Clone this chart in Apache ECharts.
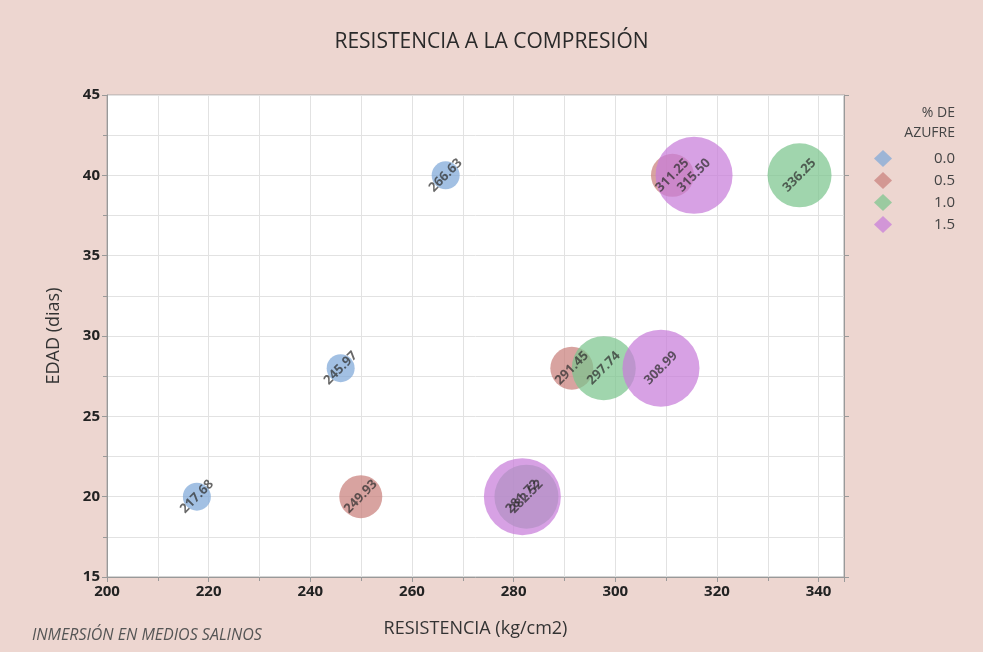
<!DOCTYPE html>
<html><head><meta charset="utf-8">
<script src="https://cdn.jsdelivr.net/npm/echarts@6/dist/echarts.min.js"></script>
<style>html,body{margin:0;padding:0;background:#fff}#c{width:983px;height:652px}</style>
</head><body><div id="c"></div>
<script>
const seriesNames = ['0.0', '0.5', '1.0', '1.5'];
const edad = [20, 28, 40];
const res00 = [217.68, 245.97, 266.63];
const res05 = [249.93, 291.45, 311.25];
const res10 = [282.52, 297.74, 336.25];
const res15 = [281.72, 308.99, 315.50];
const xTicks = [200, 220, 240, 260, 280, 300, 320, 340];
const yTicks = [15, 20, 25, 30, 35, 40, 45];

const allRes = [res00, res05, res10, res15];
const colors = ['#7ea8d8', '#c97f7c', '#7cc58d', '#c87dda'];
const sizes = [28, 43, 64, 77];
const font = '"Open Sans", "Noto Sans", sans-serif';

const chart = echarts.init(document.getElementById('c'));
const series = seriesNames.map((n, i) => ({
  name: n,
  type: 'scatter',
  symbolSize: sizes[i],
  itemStyle: { color: colors[i], opacity: 0.72 },
  label: {
    show: true, position: 'inside', rotate: 45,
    formatter: p => p.value[0].toFixed(2),
    color: '#2e2e2e', fontSize: 13, fontWeight: 'bold', fontFamily: font
  },
  emphasis: { disabled: true },
  data: allRes[i].map((r, k) => [r, edad[k]])
}));

chart.setOption({
  backgroundColor: '#edd6d0',
  animation: false,
  title: {
    text: 'RESISTENCIA A LA COMPRESIÓN', left: 'center', top: 27,
    textStyle: { fontFamily: font, fontSize: 21, fontWeight: 'normal', color: '#2a2a2a' }
  },
  graphic: [
    { type: 'text', right: 28, top: 103, style: { text: '% DE\nAZUFRE', textAlign: 'right', fill: '#444', font: '14px ' + font, lineHeight: 20 } },
    { type: 'text', left: 32, top: 627, style: { text: 'INMERSIÓN EN MEDIOS SALINOS', fill: '#555', font: 'italic 16px ' + font } }
  ],
  legend: {
    data: seriesNames, orient: 'vertical', left: 869, top: 145, itemGap: 5,
    icon: 'diamond', itemWidth: 18, itemHeight: 17,
    itemStyle: { opacity: 0.72 },
    formatter: '{a|{name}}',
    textStyle: { fontFamily: font, fontSize: 15, color: '#444',
      rich: { a: { width: 58, align: 'right', fontFamily: font, fontSize: 15, color: '#444' } } }
  },
  grid: { left: 107, right: 139, top: 95, bottom: 75, show: true, backgroundColor: '#fff', borderColor: '#aaa', borderWidth: 1 },
  xAxis: {
    type: 'value', min: xTicks[0], max: 345, interval: 20,
    name: 'RESISTENCIA (kg/cm2)', nameLocation: 'middle', nameGap: 43,
    nameTextStyle: { fontFamily: font, fontSize: 18, color: '#333' },
    axisLine: { lineStyle: { color: '#999' } },
    axisTick: { show: true, length: 5, lineStyle: { color: '#999' } },
    minorTick: { show: true, splitNumber: 2, length: 4, lineStyle: { color: '#999' } },
    axisLabel: { fontFamily: font, fontSize: 15, color: '#222', fontWeight: 'bold', showMaxLabel: false, margin: 7 },
    splitLine: { show: true, lineStyle: { color: '#e2e2e2' } },
    minorSplitLine: { show: true, lineStyle: { color: '#e2e2e2' } }
  },
  yAxis: [{
    type: 'value', min: yTicks[0], max: yTicks[yTicks.length - 1], interval: 5,
    name: 'EDAD (dias)', nameLocation: 'middle', nameGap: 44,
    nameTextStyle: { fontFamily: font, fontSize: 18, color: '#333' },
    axisLine: { show: true, lineStyle: { color: '#999' } },
    axisTick: { show: true, length: 5, lineStyle: { color: '#999' } },
    minorTick: { show: true, splitNumber: 2, length: 4, lineStyle: { color: '#999' } },
    axisLabel: { fontFamily: font, fontSize: 15, color: '#222', fontWeight: 'bold', margin: 7 },
    splitLine: { show: true, lineStyle: { color: '#e2e2e2' } },
    minorSplitLine: { show: true, lineStyle: { color: '#e2e2e2' } }
  }, {
    type: 'value', position: 'right', min: yTicks[0], max: yTicks[yTicks.length - 1], interval: 5,
    axisLine: { show: true, lineStyle: { color: '#999' } },
    axisTick: { show: true, length: 5, lineStyle: { color: '#999' } },
    axisLabel: { show: false }, splitLine: { show: false }
  }],
  series: series
});
</script></body></html>
